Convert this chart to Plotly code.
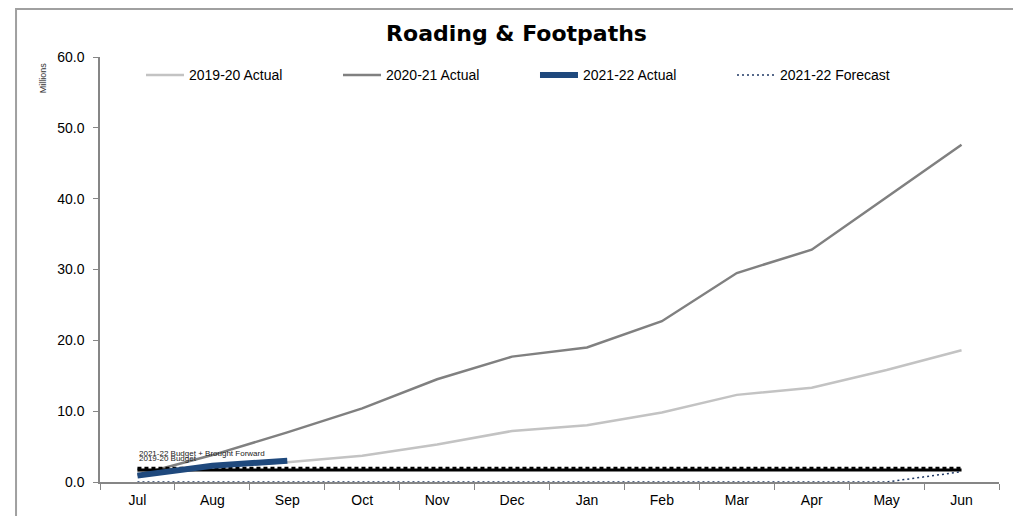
import plotly.graph_objects as go

months = ["Jul", "Aug", "Sep", "Oct", "Nov", "Dec", "Jan", "Feb", "Mar", "Apr", "May", "Jun"]

actual_1920 = [1.5, 2.2, 2.8, 3.7, 5.3, 7.2, 8.0, 9.8, 12.3, 13.3, 15.8, 18.6]
actual_2021 = [1.0, 3.8, 7.0, 10.4, 14.5, 17.7, 19.0, 22.7, 29.5, 32.8, 40.2, 47.6]
actual_2122 = [0.9, 2.3, 3.0]
forecast_2122 = [0.0, 0.0, 0.0, 0.0, 0.0, 0.0, 0.0, 0.0, 0.0, 0.0, 0.0, 1.45]
budget_1920 = [1.7] * 12
budget_2122_bf = [1.95] * 12

y_ticks = [0, 10, 20, 30, 40, 50, 60]

fig = go.Figure()

fig.add_trace(go.Scatter(x=months, y=actual_1920, name="2019-20 Actual", mode="lines",
                         line=dict(color="#c3c3c3", width=2.5)))
fig.add_trace(go.Scatter(x=months, y=actual_2021, name="2020-21 Actual", mode="lines",
                         line=dict(color="#808080", width=2.5)))
fig.add_trace(go.Scatter(x=months, y=budget_1920, name="2019-20 Budget", mode="lines",
                         line=dict(color="black", width=3), showlegend=False))
fig.add_trace(go.Scatter(x=months, y=budget_2122_bf, name="2021-22 Budget + Brought Forward",
                         mode="lines", line=dict(color="black", width=3, dash="4px,3px"),
                         showlegend=False))
fig.add_trace(go.Scatter(x=months[:len(actual_2122)], y=actual_2122, name="2021-22 Actual",
                         mode="lines", line=dict(color="#1f497d", width=6)))
fig.add_trace(go.Scatter(x=months, y=forecast_2122, name="2021-22 Forecast", mode="lines",
                         line=dict(color="#1f3864", width=1.5, dash="2px,3px")))

fig.add_annotation(x=0, y=budget_2122_bf[0], xref="x", yref="y", text="2021-22 Budget + Brought Forward",
                   showarrow=False, xanchor="left", yanchor="middle", yshift=15,
                   font=dict(size=8, color="#222222"))
fig.add_annotation(x=0, y=budget_1920[0], xref="x", yref="y", text="2019-20 Budget",
                   showarrow=False, xanchor="left", yanchor="middle", yshift=11,
                   font=dict(size=8, color="#222222"))
fig.add_annotation(x=-0.0634, y=0.95, xref="paper", yref="paper", text="Millions", showarrow=False,
                   textangle=-90, xanchor="center", yanchor="middle",
                   font=dict(size=9, color="#333333"))

# page body has an 8px margin, so the figure is 8px smaller than the window
fig.update_layout(
    width=1013, height=508,
    margin=dict(l=92, r=22, t=49, b=34),
    paper_bgcolor="white", plot_bgcolor="white",
    font=dict(family="Liberation Sans, Arial", size=14, color="black"),
    title=dict(text="<b>Roading & Footpaths</b>", x=0.502, xanchor="center",
               y=1 - 25 / 508, yanchor="middle",
               font=dict(family="DejaVu Sans", size=22, color="black")),
    legend=dict(orientation="h", x=0.0456, y=0.9945, xanchor="left", yanchor="top",
                traceorder="normal", entrywidth=144, itemwidth=38,
                font=dict(size=14), bgcolor="rgba(0,0,0,0)"),
    showlegend=True,
)

fig.update_xaxes(type="category", categoryorder="array", categoryarray=months,
                 range=[-0.5, 11.5], tickson="boundaries", ticks="outside", ticklen=6,
                 ticklabelstandoff=4, automargin=False,
                 showline=True, linecolor="#868686", linewidth=1.5, tickcolor="#868686",
                 showgrid=False, zeroline=False)
fig.update_yaxes(range=[0, 60], tickvals=y_ticks, tickformat=".1f", ticks="outside", ticklen=5,
                 ticklabelstandoff=6, automargin=False,
                 showline=True, linecolor="#868686", linewidth=1.5, tickcolor="#868686",
                 showgrid=False, zeroline=False)

fig.add_shape(type="rect", xref="paper", yref="paper", x0=-0.0934, x1=1.018, y0=-0.12, y1=1.113,
              line=dict(color="#a0a0a0", width=2), layer="below")

fig.write_html("out.html")
